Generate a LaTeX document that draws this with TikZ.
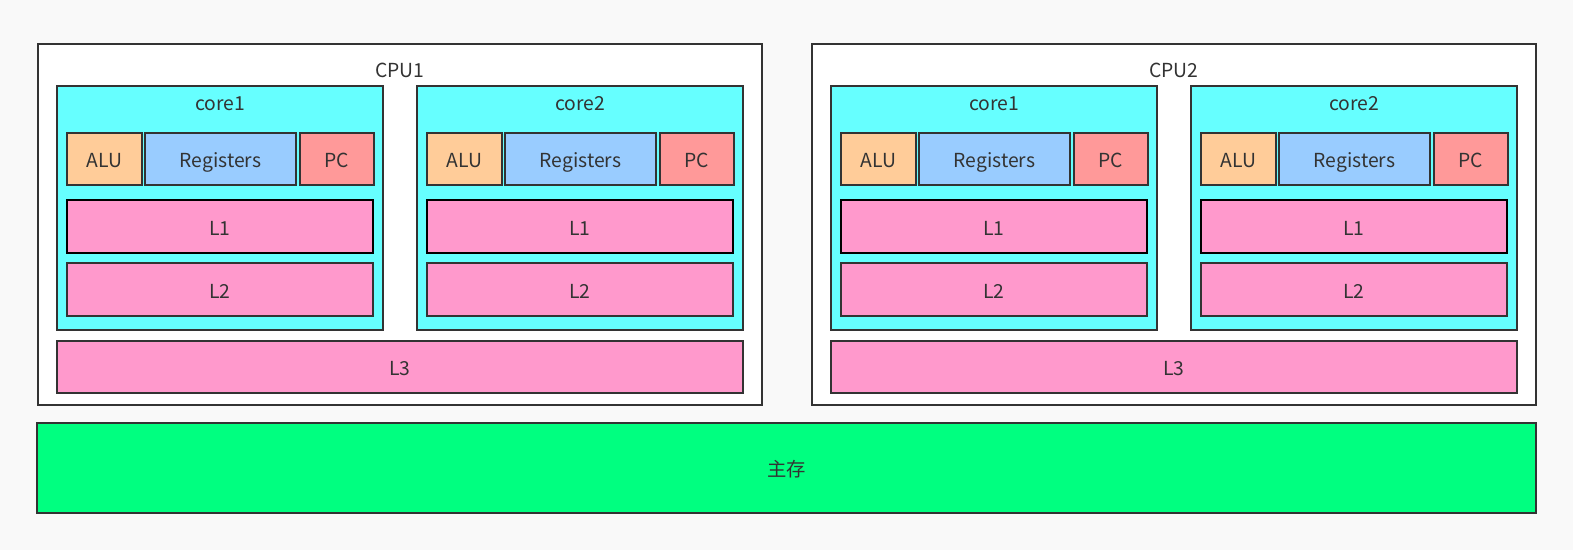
\documentclass[tikz,border=0pt]{standalone}
\usepackage{fontspec}
\setmainfont{Noto Sans CJK SC}
\definecolor{bgc}{HTML}{F9F9F9}
\definecolor{edge}{HTML}{333333}
\definecolor{corec}{HTML}{66FFFF}
\definecolor{aluc}{HTML}{FFCC99}
\definecolor{regc}{HTML}{99CCFF}
\definecolor{pcc}{HTML}{FF9999}
\definecolor{cachec}{HTML}{FF99CC}
\definecolor{memc}{HTML}{00FF80}
\newcommand\bx[7]{\node[#2, minimum width={((#5)-(#3))*0.02cm}, minimum height={((#6)-(#4))*0.02cm}] (#1) at ({((#3)+(#5))/2},{((#4)+(#6))/2}) {#7};}
\begin{document}
\begin{tikzpicture}[x=0.02cm, y=-0.02cm,
  box/.style={rectangle, draw=edge, line width=1.6pt, inner sep=0pt, text=edge, text height=9.8pt, text depth=0pt, font=\fontsize{11}{13}\selectfont},
  cpubox/.style={box, fill=white},
  corebox/.style={box, fill=corec},
  alubox/.style={box, fill=aluc},
  regbox/.style={box, fill=regc},
  pcbox/.style={box, fill=pcc},
  cachebox/.style={box, fill=cachec},
  l1box/.style={cachebox, draw=black},
  membox/.style={box, fill=memc},
  lbl/.style={text=edge, font=\fontsize{11}{13}\selectfont, text height=8.7pt, text depth=0pt, inner sep=0pt}]
\fill[bgc] (0,0) rectangle (1573,550);
\useasboundingbox (0,0) rectangle (1573,550);
\foreach \c/\ox in {1/0, 2/774}{
  \bx{cpu\c}{cpubox}{38+\ox}{44}{762+\ox}{405}{}
  \node[lbl] (cpulbl\c) at ({400+\ox},70) {CPU\c};
  \foreach \k/\oy in {1/0, 2/360}{
    \pgfmathsetmacro\o{\ox+\oy}
    \bx{core\c\k}{corebox}{57+\o}{86}{383+\o}{330}{}
    \node[lbl] (corelbl\c\k) at ({220+\o},103) {core\k};
    \bx{alu\c\k}{alubox}{67+\o}{133}{142+\o}{185}{ALU}
    \bx{reg\c\k}{regbox}{145+\o}{133}{296+\o}{185}{Registers}
    \bx{pc\c\k}{pcbox}{300+\o}{133}{374+\o}{185}{PC}
    \bx{lone\c\k}{l1box}{67+\o}{200}{373+\o}{253}{L1}
    \bx{ltwo\c\k}{cachebox}{67+\o}{263}{373+\o}{316}{L2}
  }
  \bx{lthree\c}{cachebox}{57+\ox}{341}{743+\ox}{393}{L3}
}
\bx{mem}{membox}{37}{423}{1536}{513}{主存}
\end{tikzpicture}
\end{document}
